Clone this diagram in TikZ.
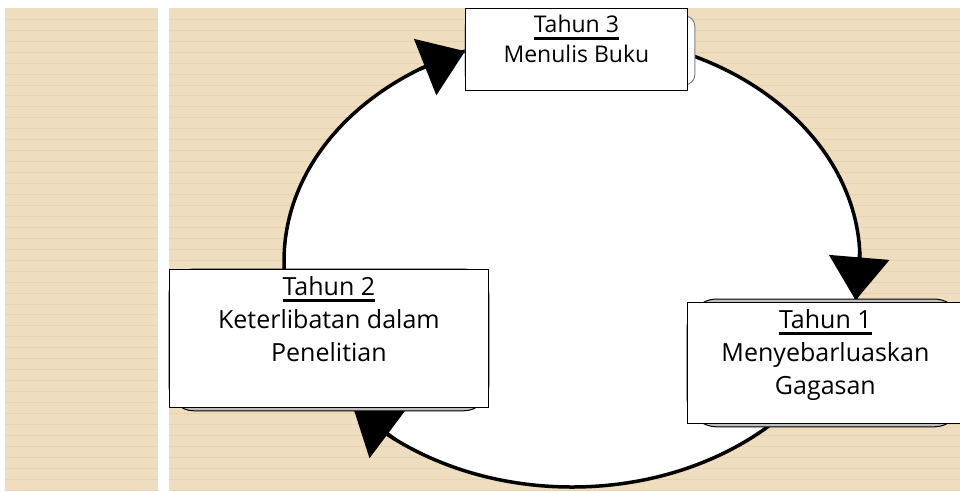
\documentclass[tikz,border=0pt]{standalone}
\usepackage{fontspec}
\setmainfont{Open Sans}
\usetikzlibrary{arrows.meta,backgrounds,positioning}

\definecolor{paper}{HTML}{EEDDBE}
\definecolor{paperline}{HTML}{E6D3B0}

% underlined year heading
\newcommand{\yearhead}[1]{\setbox0\hbox{#1}\rlap{\rule[-7pt]{\wd0}{2.8pt}}\box0}

\tikzset{
  panel/.style={fill=paper, draw=none},
  yearbox/.style={rectangle, draw=black, line width=0.8pt, fill=white, inner sep=0pt, anchor=north west},
  backplate/.style={draw=black, line width=1pt, fill=black!25},
  yeartext/.style={anchor=north, align=center, inner sep=0pt, font=\fontsize{25}{33}\selectfont},
  loopline/.style={line width=3.5pt, draw=black},
  loophead/.style={line width=3.5pt, -{Triangle[length=43pt,width=60pt]}},
}

\begin{document}
\begin{tikzpicture}[x=1pt,y=-1pt]
  \useasboundingbox (0,0) rectangle (960,491);

  % year boxes
  \node[yearbox, minimum width=222pt, minimum height=82pt] (t3) at (465,8) {};
  \node[yearbox, minimum width=319pt, minimum height=138pt] (t2) at (169,269) {};
  \node[yearbox, minimum width=276pt, minimum height=121pt] (t1) at (687,302) {};

  \node[yeartext, font=\fontsize{23}{30}\selectfont] (t3txt) at ([yshift=-7pt]t3.north) {\yearhead{Tahun 3}\\Menulis Buku};
  \node[yeartext] (t2txt) at ([yshift=-7pt]t2.north) {\yearhead{Tahun 2}\\Keterlibatan dalam\\Penelitian};
  \node[yeartext] (t1txt) at ([yshift=-7pt]t1.north) {\yearhead{Tahun 1}\\Menyebarluaskan\\Gagasan};

  \begin{scope}[on background layer]
    \fill[panel] (5,8) rectangle (158,491); %left panel
    \fill[panel] (169,8) rectangle (960,491); %right panel
    \foreach \i in {0,...,43}
      \draw[paperline, line width=1pt] (5,19.3+10.95*\i) -- (158,19.3+10.95*\i)
                                        (169,19.3+10.95*\i) -- (960,19.3+10.95*\i);

    % the cycle
    \coordinate (c) at (572,261);
    \draw[loopline, fill=white] (c) ellipse [x radius=288, y radius=226];

    \coordinate (from1) at ([shift={(-2.5:288 and 226)}]c);
    \coordinate (tip1) at ([shift={(10:288 and 226)}]c);
    \coordinate (from2) at ([shift={(128:288 and 226)}]c);
    \coordinate (tip2) at ([shift={(139.4:288 and 226)}]c);
    \coordinate (from3) at ([shift={(238:288 and 226)}]c);
    \coordinate (tip3) at ([shift={(248.2:288 and 226)}]c);
    \draw[loophead] (from1) -- (tip1); %to Tahun 1
    \draw[loophead] (from2) -- (tip2); %to Tahun 2
    \draw[loophead] (from3) -- (tip3); %to Tahun 3

    \draw[backplate, rounded corners=30pt] ([yshift=3pt]t1.north west) rectangle ([yshift=-3pt]t1.south east);
    \draw[backplate, rounded corners=25pt] (t2.north west) rectangle ([yshift=-3pt]t2.south east);
    \draw[backplate, fill=white, draw=black!50, rounded corners=10pt] ([yshift=-8pt]t3.north west) rectangle ([xshift=7pt,yshift=6pt]t3.south east);
  \end{scope}
\end{tikzpicture}
\end{document}
